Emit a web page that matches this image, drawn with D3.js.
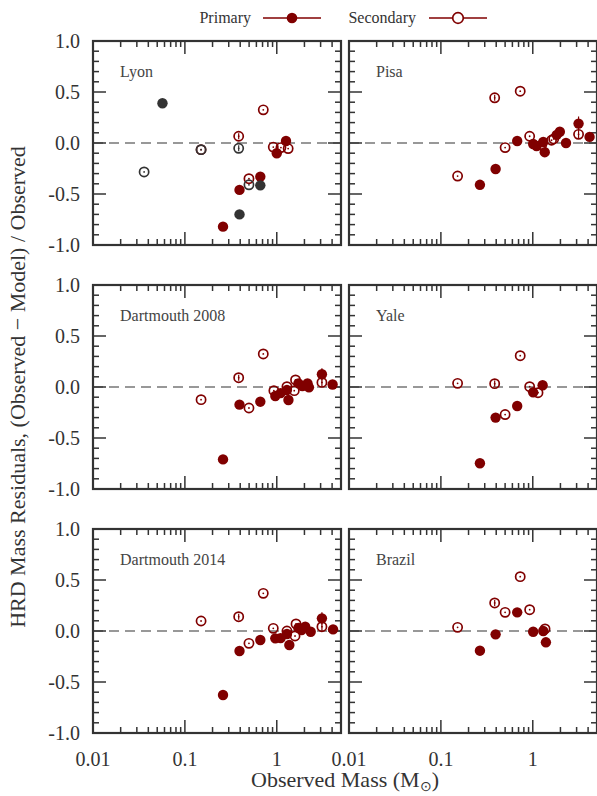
<!DOCTYPE html>
<html>
<head>
<meta charset="utf-8">
<script src="https://cdn.jsdelivr.net/npm/d3@7"></script>
<style>
  body { margin: 0; background: #fff; }
  text { font-family: "Liberation Serif", "Times New Roman", serif; }
</style>
</head>
<body>
<div id="chart"></div>
<script>
// panel names, in reading order
const models = ["Lyon", "Pisa", "Dartmouth 2008", "Yale", "Dartmouth 2014", "Brazil"];

// [observed mass, residual, error]
const lyonPrimary = [[0.26, -0.82, 0], [0.393, -0.46, 0], [0.662, -0.33, 0], [1.0, -0.10, 0], [1.26, 0.02, 0]];
const lyonSecondary = [[0.15, -0.065, 0], [0.385, 0.066, 0.03], [0.498, -0.35, 0], [0.713, 0.325, 0], [0.916, -0.04, 0], [1.11, -0.045, 0], [1.33, -0.055, 0]];
const lyonGreyPrimary = [[0.057, 0.39, 0], [0.393, -0.70, 0], [0.662, -0.415, 0]];
const lyonGreySecondary = [[0.036, -0.284, 0], [0.15, -0.065, 0], [0.385, -0.052, 0.03], [0.498, -0.41, 0]];

const pisaPrimary = [[0.266, -0.41, 0], [0.394, -0.255, 0], [0.677, 0.02, 0], [1.01, -0.01, 0], [1.1, -0.03, 0], [1.3, 0.01, 0], [1.35, -0.09, 0], [1.82, 0.08, 0], [1.97, 0.11, 0], [2.3, 0.0, 0], [3.15, 0.19, 0.07], [4.15, 0.06, 0]];
const pisaSecondary = [[0.152, -0.324, 0], [0.385, 0.443, 0.03], [0.50, -0.045, 0], [0.73, 0.508, 0], [0.925, 0.066, 0], [1.25, -0.02, 0], [1.6, 0.027, 0], [1.69, 0.04, 0], [3.15, 0.085, 0.04]];

const dart08Primary = [[0.26, -0.71, 0], [0.393, -0.173, 0], [0.662, -0.144, 0], [0.964, -0.088, 0], [1.1, -0.06, 0], [1.29, -0.03, 0], [1.34, -0.127, 0], [1.72, 0.036, 0], [1.9, 0.01, 0], [2.16, 0.036, 0], [2.24, -0.003, 0], [3.1, 0.125, 0.06], [4.05, 0.025, 0]];
const dart08Secondary = [[0.15, -0.124, 0], [0.385, 0.091, 0.03], [0.498, -0.206, 0], [0.713, 0.324, 0], [0.93, -0.036, 0], [1.29, 0.003, 0], [1.55, -0.036, 0], [1.6, 0.069, 0], [3.1, 0.045, 0.04]];

const yalePrimary = [[0.266, -0.748, 0], [0.394, -0.30, 0], [0.677, -0.186, 0], [1.01, -0.052, 0], [1.28, 0.017, 0]];
const yaleSecondary = [[0.152, 0.036, 0], [0.385, 0.033, 0.03], [0.50, -0.27, 0], [0.73, 0.307, 0], [0.925, 0.003, 0], [1.14, -0.056, 0]];

const dart14Primary = [[0.26, -0.627, 0], [0.393, -0.196, 0], [0.662, -0.088, 0], [0.964, -0.072, 0], [1.1, -0.07, 0], [1.29, -0.029, 0], [1.37, -0.137, 0], [1.72, 0.03, 0], [1.86, 0.01, 0], [2.04, 0.042, 0], [2.34, -0.007, 0], [3.1, 0.124, 0.06], [4.1, 0.016, 0]];
const dart14Secondary = [[0.15, 0.098, 0], [0.385, 0.14, 0.03], [0.498, -0.121, 0], [0.713, 0.369, 0], [0.916, 0.026, 0], [1.29, 0.0, 0], [1.58, -0.049, 0], [1.62, 0.069, 0], [3.1, 0.042, 0.04]];

const brazilPrimary = [[0.266, -0.193, 0], [0.394, -0.033, 0], [0.677, 0.183, 0], [1.01, -0.007, 0], [1.3, 0.0, 0], [1.39, -0.111, 0]];
const brazilSecondary = [[0.152, 0.036, 0], [0.385, 0.275, 0.03], [0.5, 0.183, 0], [0.73, 0.533, 0], [0.925, 0.209, 0], [1.36, 0.02, 0]];

const primaries = [lyonPrimary, pisaPrimary, dart08Primary, yalePrimary, dart14Primary, brazilPrimary];
const secondaries = [lyonSecondary, pisaSecondary, dart08Secondary, yaleSecondary, dart14Secondary, brazilSecondary];

const xTickLabels = ["0.01", "0.1", "1"];
const yTickLabels = ["1.0", "0.5", "0.0", "-0.5", "-1.0"];

// layout
const W = 597, H = 796;
const colX = [93, 349];
const rowY = [41, 285, 529];
const pw = 248, ph = 204;

const red = "#800000";
const grey = "#333333";
const frameColor = "#333";

const svg = d3.select("#chart")
    .append("svg")
    .attr("width", W)
    .attr("height", H);

// scales (shared by every panel, translated per panel)
const xScale = d3.scaleLog().domain([0.01, 5]).range([0, pw]);
const yScale = d3.scaleLinear().domain([-1, 1]).range([ph, 0]);

const majorX = [0.01, 0.1, 1];
const minorX = [];
[0.01, 0.1, 1].forEach(dec => {
    for (let k = 2; k <= 9; k++) if (dec * k <= 5) minorX.push(dec * k);
});
const majorY = [-1, -0.5, 0, 0.5, 1];
const minorY = d3.range(-9, 10).map(i => i / 10).filter(v => Math.abs(v * 2 - Math.round(v * 2)) > 1e-6);

// one panel
const drawPanel = (i) => {
    const col = i % 2, row = Math.floor(i / 2);
    const g = svg.append("g")
        .attr("transform", `translate(${colX[col]}, ${rowY[row]})`);

    // zero line
    g.append("line")
        .attr("x1", 0).attr("x2", pw)
        .attr("y1", yScale(0)).attr("y2", yScale(0))
        .attr("stroke", "#777")
        .attr("stroke-width", 1.3)
        .attr("stroke-dasharray", "10,6");

    // ticks on all four sides, inward
    const tickG = g.append("g")
        .attr("stroke", frameColor)
        .attr("stroke-width", 1.5);

    const xTicks = majorX.map(v => ({ v, len: 13 })).concat(minorX.map(v => ({ v, len: 6 })));
    xTicks.forEach(t => {
        const x = xScale(t.v);
        tickG.append("line").attr("x1", x).attr("x2", x).attr("y1", 0).attr("y2", t.len);
        tickG.append("line").attr("x1", x).attr("x2", x).attr("y1", ph).attr("y2", ph - t.len);
    });

    const yTicks = majorY.map(v => ({ v, len: 13 })).concat(minorY.map(v => ({ v, len: 6 })));
    yTicks.forEach(t => {
        const y = yScale(t.v);
        tickG.append("line").attr("x1", 0).attr("x2", t.len).attr("y1", y).attr("y2", y);
        tickG.append("line").attr("x1", pw).attr("x2", pw - t.len).attr("y1", y).attr("y2", y);
    });

    // frame
    g.append("rect")
        .attr("width", pw).attr("height", ph)
        .attr("fill", "none")
        .attr("stroke", frameColor)
        .attr("stroke-width", 2.2);

    // panel name
    g.append("text")
        .attr("x", 27).attr("y", 36)
        .attr("font-size", 16)
        .attr("fill", "#444")
        .text(models[i]);

    const pts = g.append("g");

    const drawSet = (data, color, filled) => {
        // error bars
        pts.selectAll(null)
            .data(data.filter(d => d[2] > 0))
            .enter()
            .append("line")
            .attr("x1", d => xScale(d[0])).attr("x2", d => xScale(d[0]))
            .attr("y1", d => yScale(d[1] - d[2])).attr("y2", d => yScale(d[1] + d[2]))
            .attr("stroke", color)
            .attr("stroke-width", 1.2);

        pts.selectAll(null)
            .data(data)
            .enter()
            .append("circle")
            .attr("cx", d => xScale(d[0]))
            .attr("cy", d => yScale(d[1]))
            .attr("r", filled ? 5.2 : 4.6)
            .attr("fill", filled ? color : "none")
            .attr("stroke", color)
            .attr("stroke-width", filled ? 0 : 1.7);

        if (!filled) {
            pts.selectAll(null)
                .data(data)
                .enter()
                .append("circle")
                .attr("cx", d => xScale(d[0]))
                .attr("cy", d => yScale(d[1]))
                .attr("r", 0.9)
                .attr("fill", color);
        }
    };

    drawSet(secondaries[i], red, false);
    if (i === 0) drawSet(lyonGreySecondary, grey, false);
    drawSet(primaries[i], red, true);
    if (i === 0) drawSet(lyonGreyPrimary, grey, true);

    // tick labels on the outer panels
    if (col === 0) {
        g.selectAll(null)
            .data(majorY.slice().reverse())
            .enter()
            .append("text")
            .attr("x", -13)
            .attr("y", d => yScale(d) + 7)
            .attr("text-anchor", "end")
            .attr("font-size", 20)
            .attr("fill", "#333")
            .text((d, j) => yTickLabels[j]);
    }
    if (row === 2) {
        g.selectAll(null)
            .data(majorX)
            .enter()
            .append("text")
            .attr("x", d => xScale(d))
            .attr("y", ph + 33)
            .attr("text-anchor", "middle")
            .attr("font-size", 20)
            .attr("fill", "#333")
            .text((d, j) => xTickLabels[j]);
    }
};

models.forEach((m, i) => drawPanel(i));

// axis titles
svg.append("text")
    .attr("transform", `translate(25, ${rowY[0] + (rowY[2] + ph - rowY[0]) / 2}) rotate(-90)`)
    .attr("text-anchor", "middle")
    .attr("font-size", 22)
    .attr("fill", "#333")
    .text("HRD Mass Residuals, (Observed \u2212 Model) / Observed");

const xTitle = svg.append("text")
    .attr("x", 345)
    .attr("y", 787)
    .attr("text-anchor", "middle")
    .attr("font-size", 22)
    .attr("fill", "#333");
xTitle.append("tspan").text("Observed Mass (M");
xTitle.append("tspan").attr("font-size", 14).attr("dy", 4).text("\u2299");
xTitle.append("tspan").attr("dy", -4).text(")");

// legend
const legend = svg.append("g");
const legendItems = [
    { label: "Primary", tx: 251, x1: 263, x2: 321, filled: true },
    { label: "Secondary", tx: 416, x1: 429, x2: 487, filled: false }
];
legendItems.forEach(it => {
    legend.append("text")
        .attr("x", it.tx).attr("y", 23)
        .attr("text-anchor", "end")
        .attr("font-size", 16)
        .attr("fill", "#333")
        .text(it.label);
    legend.append("line")
        .attr("x1", it.x1).attr("x2", it.x2)
        .attr("y1", 18).attr("y2", 18)
        .attr("stroke", red)
        .attr("stroke-width", 1.6);
    legend.append("circle")
        .attr("cx", (it.x1 + it.x2) / 2).attr("cy", 18)
        .attr("r", 5.3)
        .attr("fill", it.filled ? red : "white")
        .attr("stroke", red)
        .attr("stroke-width", it.filled ? 0 : 1.7);
});
</script>
</body>
</html>
